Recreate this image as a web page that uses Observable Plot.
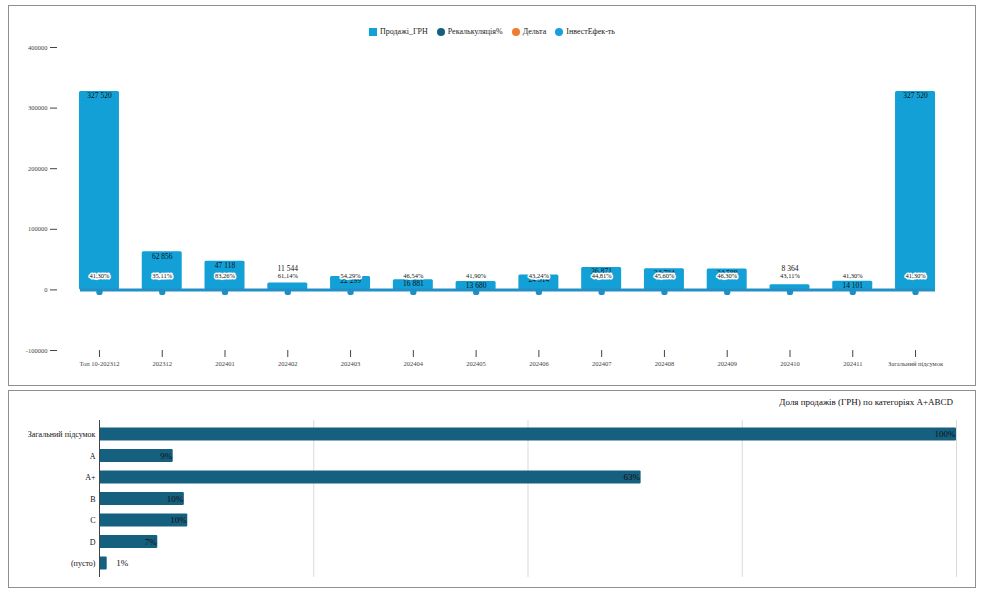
<!DOCTYPE html>
<html><head><meta charset="utf-8">
<script src="https://cdn.jsdelivr.net/npm/d3@7"></script>
<script src="https://cdn.jsdelivr.net/npm/@observablehq/plot@0.6"></script>
<style>
body{margin:0;background:#fff;font-family:"Liberation Serif",serif;}
.panel{position:absolute;left:8px;width:966px;border:1px solid #8f8f8f;background:#fff;}
#topPanel{top:5px;height:379px;}
#bottomPanel{top:390px;height:196px;}
.legend{height:34px;box-sizing:border-box;padding-top:18px;display:flex;justify-content:center;gap:9px;font-size:8px;line-height:10px;color:#222}
.item{display:flex;align-items:center;gap:3px}
.sw{width:8px;height:8px;display:inline-block}
.title{height:22px;box-sizing:border-box;padding:6px 22px 0 0;text-align:right;font-size:9px;line-height:11px;color:#111}
svg{display:block}
</style>
</head><body>
<div class="panel" id="topPanel"><div class="legend" id="legend"></div></div>
<div class="panel" id="bottomPanel"><div class="title" id="title"></div></div>
<script>
// ---- top chart data ----
const categories = ["Топ 10-202312","202312","202401","202402","202403","202404","202405","202406","202407","202408","202409","202410","202411","Загальний підсумок"];
const sales = [327520, 62856, 47118, 11544, 22299, 16881, 13680, 24514, 36871, 34704, 34588, 8364, 14101, 327520];
const recalcPct = [0.4130, 0.3511, 0.8326, 0.6114, 0.5429, 0.4654, 0.4190, 0.4324, 0.4481, 0.4560, 0.4630, 0.4311, 0.4130, 0.4130];
const yTicks = [-100000, 0, 100000, 200000, 300000, 400000];
const legendNames = ["Продажі_ГРН", "Рекалькуляція%", "Дельта", "ІнвестЕфек-ть"];
const legendColors = ["#12a0d7", "#175f80", "#ee7d31", "#18a0dc"];
const legendShapes = ["square", "circle", "circle", "circle"];

// ---- bottom chart data ----
const chartTitle = "Доля продажів (ГРН) по категоріях A+ABCD";
const shareCats = ["Загальний підсумок", "A", "A+", "B", "C", "D", "(пусто)"];
const shareVals = [1.00, 0.086, 0.632, 0.099, 0.103, 0.068, 0.009];
const shareGrid = [0.25, 0.5, 0.75, 1.0];

const uaFmt = d3.formatLocale({decimal: ",", thousands: " ", grouping: [3], currency: ["", ""]});
const fmtNum = uaFmt.format(",d");
const fmtPct = uaFmt.format(".2%");
const fmtPct0 = uaFmt.format(".0%");

// legend
const lg = document.getElementById("legend");
legendNames.forEach((n, i) => {
  const it = document.createElement("div"); it.className = "item";
  const sw = document.createElement("span"); sw.className = "sw";
  sw.style.background = legendColors[i];
  if (legendShapes[i] === "circle") sw.style.borderRadius = "50%";
  const t = document.createElement("span"); t.textContent = n;
  it.appendChild(sw); it.appendChild(t); lg.appendChild(it);
});

const topData = categories.map((c, i) => ({c, v: sales[i], p: recalcPct[i]}));
const SMALL = 12000;

const topChart = Plot.plot({
  width: 966, height: 344,
  marginLeft: 48, marginRight: 18, marginTop: 7, marginBottom: 34,
  style: {fontFamily: "Liberation Serif", fontSize: "6.5px", color: "#444", background: "transparent"},
  x: {domain: categories, round: false, paddingInner: 0.363, paddingOuter: 0.35, label: null, tickSize: 7, tickPadding: 4},
  y: {domain: [-100000, 400000], ticks: yTicks, tickFormat: d => String(d), label: null, tickSize: 7, tickPadding: 3},
  marks: [
    Plot.barY(topData, {x: "c", y: "v", fill: "#12a0d7", rx: 1.5}),
    Plot.ruleY([0], {stroke: "#2290c6", strokeWidth: 3, insetLeft: 23, insetRight: 22}),
    Plot.dot(topData, {x: "c", y: 0, r: 3.2, fill: "#1e8fc6", dy: 2}),
    Plot.text(topData.filter(d => d.v >= SMALL), {x: "c", y: "v", text: d => fmtNum(d.v), lineAnchor: "top", dy: 1.5, fill: "#111", fontSize: 7.5}),
    Plot.text(topData.filter(d => d.v < SMALL), {x: "c", y: 0, text: d => fmtNum(d.v), dy: -21, fill: "#111", fontSize: 7.5}),
    Plot.text(topData, {x: "c", y: 0, text: d => fmtPct(d.p), dy: -14, fill: "#111", stroke: "white", strokeWidth: 3, fontSize: 6.5})
  ]
});
document.getElementById("topPanel").appendChild(topChart);

// bottom chart
document.getElementById("title").textContent = chartTitle;
const shareData = shareCats.map((c, i) => ({c, v: shareVals[i]}));
const bottomChart = Plot.plot({
  width: 966, height: 174,
  marginLeft: 90, marginRight: 19, marginTop: 7, marginBottom: 10,
  style: {fontFamily: "Liberation Serif", fontSize: "8px", color: "#111", background: "transparent"},
  x: {domain: [0, 1], axis: null},
  y: {domain: shareCats, round: false, paddingInner: 0.4, paddingOuter: 0.35, label: null, tickSize: 0, tickPadding: 4},
  marks: [
    Plot.gridX(shareGrid, {stroke: "#d9d9d9", strokeOpacity: 1}),
    Plot.barX(shareData, {x: "v", y: "c", fill: "#16607f", rx: 1}),
    Plot.ruleX([0], {stroke: "#444"}),
    Plot.text(shareData.filter(d => d.v >= 0.05), {x: "v", y: "c", text: d => fmtPct0(d.v), textAnchor: "end", dx: -1, fill: "#111", fontSize: 9}),
    Plot.text(shareData.filter(d => d.v < 0.05), {x: "v", y: "c", text: d => fmtPct0(d.v), textAnchor: "start", dx: 9, fill: "#111", fontSize: 9})
  ]
});
document.getElementById("bottomPanel").appendChild(bottomChart);
</script>
</body></html>
